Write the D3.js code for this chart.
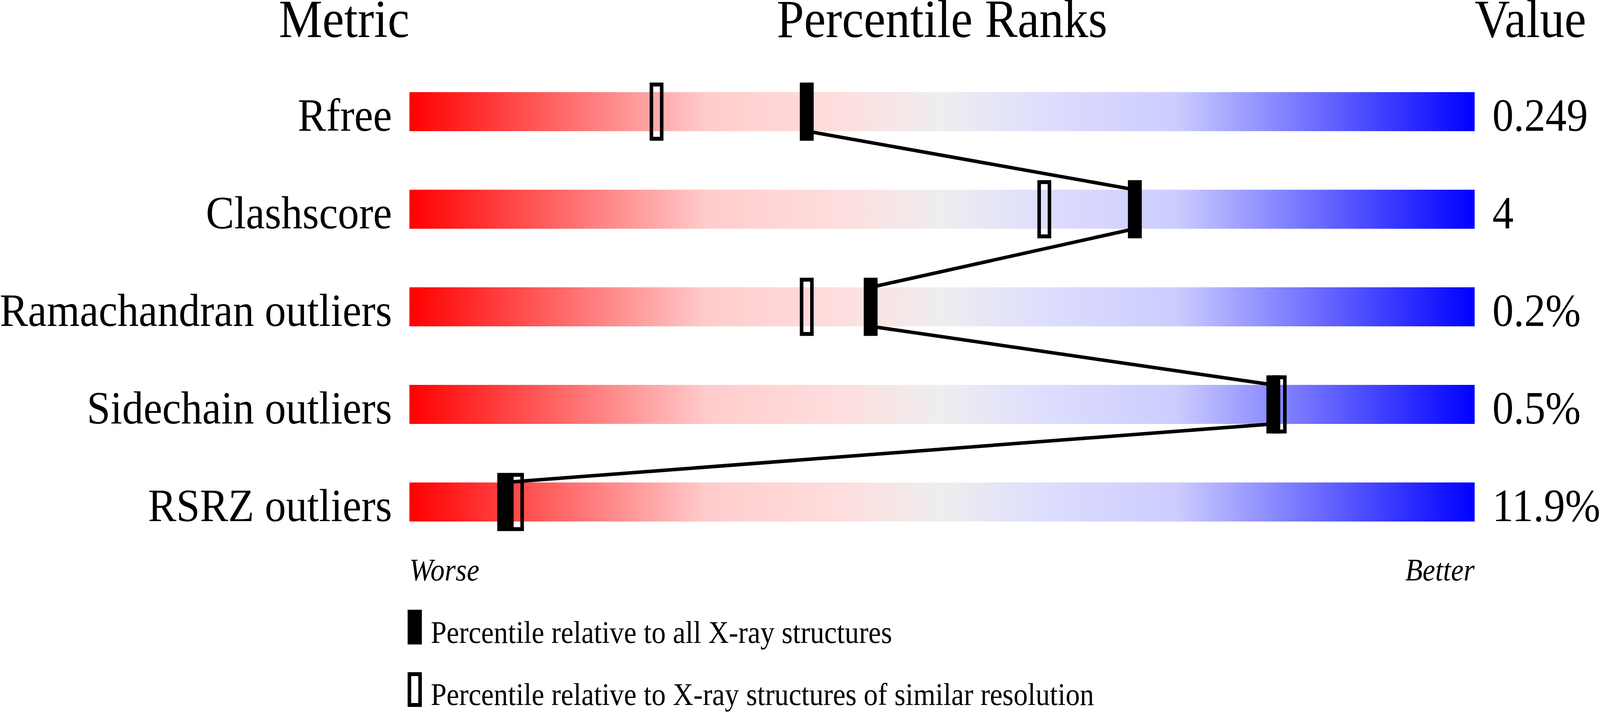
<!DOCTYPE html>
<html>
<head>
<meta charset="utf-8">
<script src="https://cdn.jsdelivr.net/npm/d3@7"></script>
<style>
  html, body { margin: 0; padding: 0; background: #fff; overflow: hidden; }
  svg { display: block; }
  text { font-family: "Liberation Serif", "Times New Roman", serif; fill: #000; }
</style>
</head>
<body>
<div class="holder"></div>
<script>
// metrics shown in the slider chart
const metrics = ["Rfree", "Clashscore", "Ramachandran outliers", "Sidechain outliers", "RSRZ outliers"];
const values = ["0.249", "4", "0.2%", "0.5%", "11.9%"];
// percentile vs all X-ray structures (filled) and vs similar resolution (open)
const pctAll = [37.3, 68.1, 43.3, 81.1, 8.9];
const pctSimilar = [23.2, 59.6, 37.3, 81.7, 10.1];
const legendLabels = ["Percentile relative to all X-ray structures",
                      "Percentile relative to X-ray structures of similar resolution"];

let w = 4506;
let h = 1824;
let barH = 100;
let markW = 39, markH = 149, openStroke = 10;

// drawn in a fixed 4506x1824 space, stretched to whatever the window is
const svg = d3.select(".holder")
              .append("svg")
              .attr("viewBox", `0 0 ${w} ${h}`)
              .attr("preserveAspectRatio", "none")
              .style("width", "100vw")
              .style("height", "100vh");

const x = d3.scaleLinear()
            .domain([0, 100])
            .range([1153, 4153]);

const y = d3.scalePoint()
            .domain(metrics)
            .range([286, 1286]);

// gradient red -> grey -> blue
const grad = svg.append("defs")
                .append("linearGradient")
                .attr("id", "rank")
                .attr("x1", "0%").attr("x2", "100%")
                .attr("y1", "0%").attr("y2", "0%");
[[0, "#ff0000"], [0.28, "#ffcccc"], [0.4, "#ffdddd"], [0.5, "#eeeeee"],
 [0.6, "#ddddff"], [0.72, "#ccccff"], [1, "#0000ff"]].forEach(s => {
    grad.append("stop").attr("offset", s[0]).attr("stop-color", s[1]);
});

// headers
svg.append("text").attr("x", x(0)).attr("y", 95)
   .attr("text-anchor", "end").style("font-size", "138px").text("Metric");
svg.append("text").attr("x", (x(0) + x(100)) / 2).attr("y", 95)
   .attr("text-anchor", "middle").style("font-size", "138px").text("Percentile Ranks");
svg.append("text").attr("x", x(100)).attr("y", 95)
   .attr("text-anchor", "start").style("font-size", "138px").text("Value");

// bars
svg.selectAll("rect.bar")
   .data(metrics)
   .enter()
   .append("rect")
   .attr("class", "bar")
   .attr("x", x(0))
   .attr("y", d => y(d) - barH / 2)
   .attr("width", x(100) - x(0))
   .attr("height", barH)
   .style("fill", "url(#rank)");

// row labels and values
svg.selectAll("text.metric")
   .data(metrics)
   .enter()
   .append("text")
   .attr("class", "metric")
   .attr("x", x(0) - 49)
   .attr("y", d => y(d) + barH / 2 - 1)
   .attr("text-anchor", "end")
   .style("font-size", "119.5px")
   .text(d => d);

svg.selectAll("text.value")
   .data(values)
   .enter()
   .append("text")
   .attr("class", "value")
   .attr("x", x(100) + 50)
   .attr("y", (d, i) => y(metrics[i]) + barH / 2 - 1)
   .style("font-size", "119.5px")
   .text(d => d);

// connecting line: bottom of one row to top of the next
const pts = pctAll.flatMap((p, i) => [[x(p), y(metrics[i]) - barH / 2], [x(p), y(metrics[i]) + barH / 2]]);
svg.append("path")
   .attr("d", d3.line()(pts))
   .style("fill", "none")
   .style("stroke", "#000")
   .style("stroke-width", 9);

// open markers
svg.selectAll("rect.open")
   .data(pctSimilar)
   .enter()
   .append("rect")
   .attr("class", "open")
   .attr("x", d => x(d) - (markW - openStroke) / 2)
   .attr("y", (d, i) => y(metrics[i]) - (markH - openStroke) / 2)
   .attr("width", markW - openStroke)
   .attr("height", markH - openStroke)
   .style("fill", "none")
   .style("stroke", "#000")
   .style("stroke-width", openStroke);

// filled markers
svg.selectAll("rect.all")
   .data(pctAll)
   .enter()
   .append("rect")
   .attr("class", "all")
   .attr("x", d => x(d) - markW / 2)
   .attr("y", (d, i) => y(metrics[i]) - markH / 2)
   .attr("width", markW)
   .attr("height", markH)
   .style("fill", "#000");

// worse / better
svg.append("text").attr("x", x(0)).attr("y", 1487)
   .style("font-size", "80px").style("font-style", "italic").text("Worse");
svg.append("text").attr("x", x(100)).attr("y", 1487)
   .attr("text-anchor", "end")
   .style("font-size", "80px").style("font-style", "italic").text("Better");

// legend
svg.append("rect")
   .attr("x", 1148).attr("y", 1562)
   .attr("width", 40).attr("height", 89)
   .style("fill", "#000");
svg.append("rect")
   .attr("x", 1148 + 5).attr("y", 1722 + 5)
   .attr("width", 30).attr("height", 79)
   .style("fill", "none")
   .style("stroke", "#000")
   .style("stroke-width", 10);

svg.selectAll("text.legend")
   .data(legendLabels)
   .enter()
   .append("text")
   .attr("class", "legend")
   .attr("x", 1213)
   .attr("y", (d, i) => i === 0 ? 1647 : 1806)
   .style("font-size", "80px")
   .text(d => d);
</script>
</body>
</html>
